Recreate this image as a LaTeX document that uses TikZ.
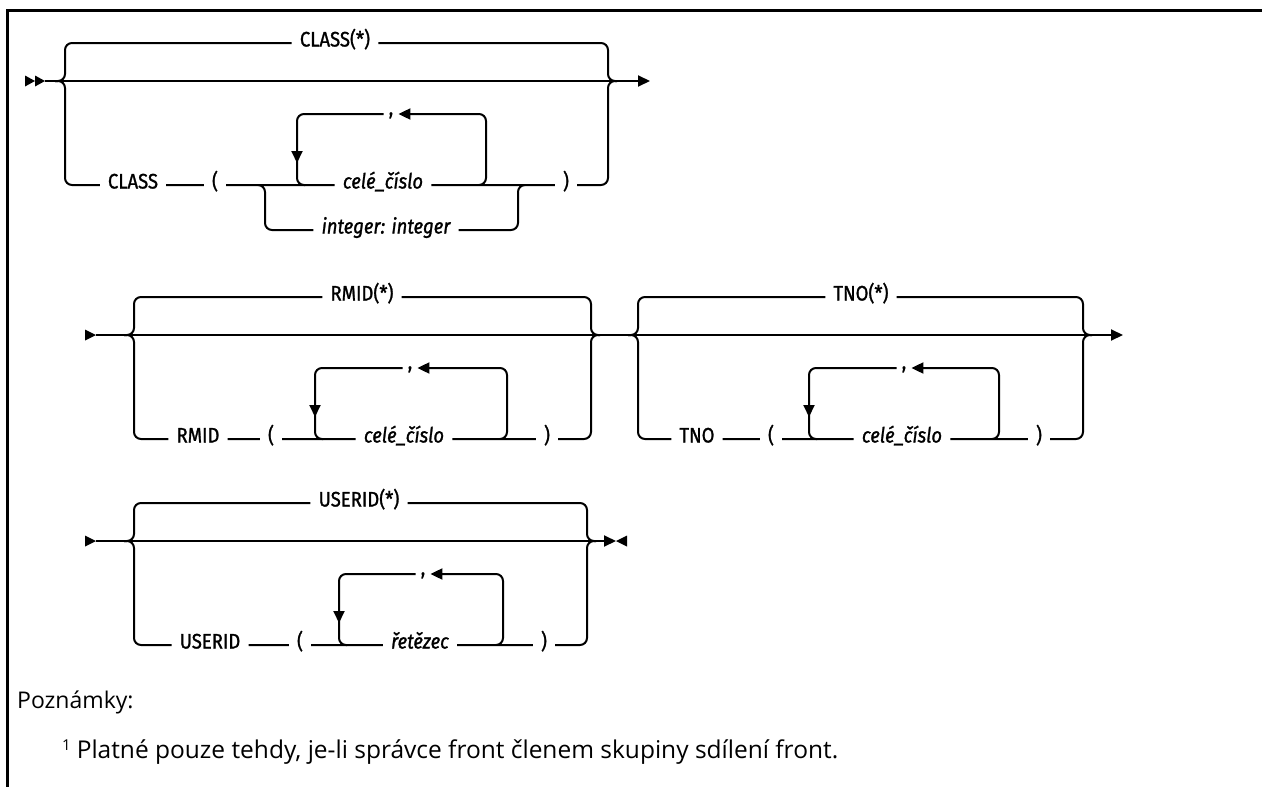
\documentclass[tikz,border=0pt]{standalone}
\usepackage{fontspec}
\setmainfont{Open Sans}
\newfontfamily\synfont[FakeStretch=0.88, FakeBold=1.2]{Fira Sans}
\usetikzlibrary{arrows.meta}

\tikzset{
	rail/.style={line width=2pt, rounded corners=7pt},
	railarrow/.style={rail, -{Triangle[length=12pt,width=11pt]}},
	kw/.style={font=\synfont\fontsize{21}{25}\selectfont, inner xsep=8pt, inner ysep=0pt, text height=0.8em, text depth=0.1em},
	varlabel/.style={kw, font=\synfont\itshape\fontsize{21}{25}\selectfont},
	sepmark/.style={kw, text height=0.55em, text depth=0.35em, inner xsep=5pt},
}

\begin{document}
\begin{tikzpicture}[x=1pt, y=-1pt]
		\useasboundingbox (0,0) rectangle (1262,787);
		\draw[line width=2.7pt] (7.5,787) -- (7.5,10.5) -- (1262,10.5);

		% CLASS
		\begin{scope}[yshift=-81pt]
			\fill (25,-5.5) -- (35,0) -- (25,5.5) -- cycle;
			\fill (35,-5.5) -- (45,0) -- (35,5.5) -- cycle;
			\coordinate (s1) at (45,0);
			\coordinate (e1) at (650,0);
			\draw[railarrow] (s1) -- (e1);

			\node[kw] (classstar) at (335,-38) {CLASS(*)};
			\node[kw] (classkw) at (133,104) {CLASS};
			\node[kw] (lp1) at (215,104) {(};
			\node[varlabel] (cislo1) at (383,104) {celé\_číslo};
			\node[kw] (rp1) at (566,104) {)};
			\node[varlabel] (alt1) at (386,149) {integer: integer};
			\node[sepmark] (comma1) at (391,33) {,};

			\draw[rail] (55,0) -| (65,-38) -- (classstar) -| (608,0) -- (617,0);
			\draw[rail] (55,0) -| (65,104) -- (classkw) -- (lp1) -- (cislo1) -- (rp1) -| (608,0) -- (617,0);
			\draw[rail] (258,104) -| (265,149) -- (alt1) -| (518,104) -- (525,104);
			\draw[railarrow] (479,104) -| (486,33) -- (comma1);
			\draw[railarrow] (comma1) -| (297,82);
			\draw[rail] (297,78) |- (305,104);
		\end{scope}

		% RMID, TNO
		\begin{scope}[yshift=-335pt]
			\fill (85,-5.5) -- (96,0) -- (85,5.5) -- cycle;
			\coordinate (s2) at (96,0);
			\coordinate (e2) at (1123,0);
			\draw[railarrow] (s2) -- (e2);

			\node[kw] (rmidstar) at (362,-38) {RMID(*)};
			\node[kw] (rmidkw) at (198,104) {RMID};
			\node[kw] (lp2) at (271,104) {(};
			\node[varlabel] (cislo2) at (404,104) {celé\_číslo};
			\node[kw] (rp2) at (547,104) {)};
			\node[sepmark] (comma2) at (410,33) {,};

			\draw[rail] (124,0) -| (134,-38) -- (rmidstar) -| (591,0) -- (600,0);
			\draw[rail] (124,0) -| (134,104) -- (rmidkw) -- (lp2) -- (cislo2) -- (rp2) -| (591,0) -- (600,0);
			\draw[railarrow] (500,104) -| (507,33) -- (comma2);
			\draw[railarrow] (comma2) -| (315,82);
			\draw[rail] (315,78) |- (323,104);

			\node[kw] (tnostar) at (861,-38) {TNO(*)};
			\node[kw] (tnokw) at (697,104) {TNO};
			\node[kw] (lp3) at (771,104) {(};
			\node[varlabel] (cislo3) at (902,104) {celé\_číslo};
			\node[kw] (rp3) at (1039,104) {)};
			\node[sepmark] (comma3) at (904,33) {,};

			\draw[rail] (628,0) -| (638,-38) -- (tnostar) -| (1083,0) -- (1092,0);
			\draw[rail] (628,0) -| (638,104) -- (tnokw) -- (lp3) -- (cislo3) -- (rp3) -| (1083,0) -- (1092,0);
			\draw[railarrow] (992,104) -| (999,33) -- (comma3);
			\draw[railarrow] (comma3) -| (809,82);
			\draw[rail] (809,78) |- (817,104);
		\end{scope}

		% USERID
		\begin{scope}[yshift=-541pt]
			\fill (85,-5.5) -- (96,0) -- (85,5.5) -- cycle;
			\coordinate (s3) at (96,0);
			\coordinate (e3) at (616,0);
			\draw[railarrow] (s3) -- (e3);
			\fill (627,-5.5) -- (616,0) -- (627,5.5) -- cycle;

			\node[kw] (useridstar) at (359,-38) {USERID(*)};
			\node[kw] (useridkw) at (210,104) {USERID};
			\node[kw] (lp4) at (300,104) {(};
			\node[varlabel] (str1) at (420,104) {řetězec};
			\node[kw] (rp4) at (544,104) {)};
			\node[sepmark] (comma4) at (423,33) {,};

			\draw[rail] (124,0) -| (134,-38) -- (useridstar) -| (587,0) -- (596,0);
			\draw[rail] (124,0) -| (134,104) -- (useridkw) -- (lp4) -- (str1) -- (rp4) -| (587,0) -- (596,0);
			\draw[railarrow] (496,104) -| (503,33) -- (comma4);
			\draw[railarrow] (comma4) -| (339,82);
			\draw[rail] (339,78) |- (347,104);
		\end{scope}

		% notes
		\node[anchor=west, inner sep=0pt, font=\fontsize{23}{28}\selectfont] (notes) at (17,702) {Poznámky:};
		\node[anchor=west, inner sep=0pt, font=\fontsize{24.5}{29}\selectfont] (note1) at (62,752)
			{{\fontsize{15}{15}\selectfont\raisebox{8pt}{1}}\hspace{6pt}Platné pouze tehdy, je-li správce front členem skupiny sdílení front.};
	\end{tikzpicture}
\end{document}
